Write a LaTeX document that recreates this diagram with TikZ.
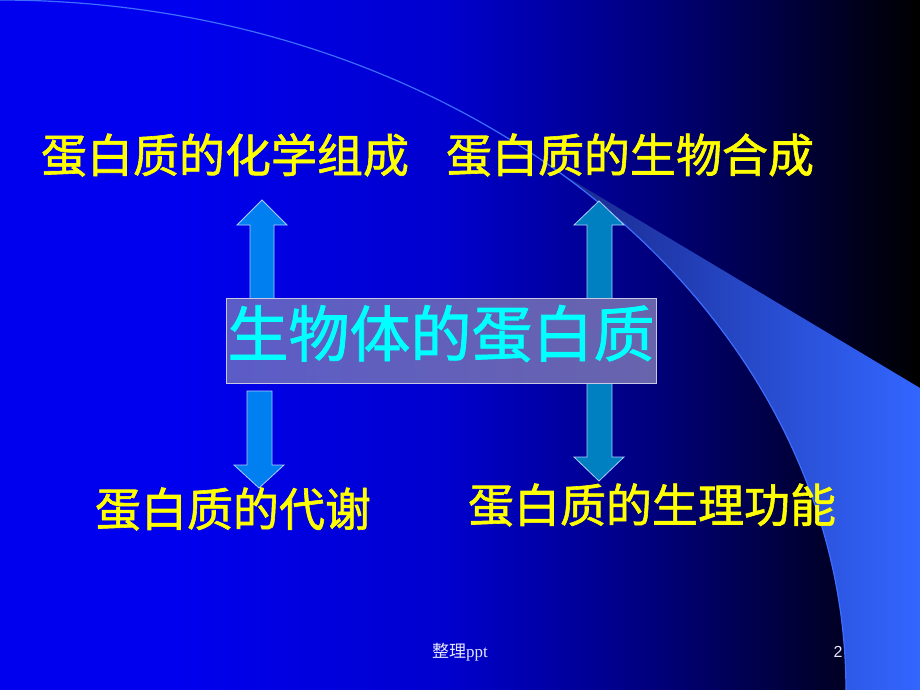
\documentclass[tikz,border=0pt]{standalone}
\usepackage{fontspec}
\setmainfont{Liberation Serif}
\newfontfamily\cjk{Noto Sans CJK SC}
\newfontfamily\cjkb[FakeBold=1.3]{Noto Sans CJK SC}
\newfontfamily\sansf{Liberation Sans}
\definecolor{bgA}{RGB}{0,0,238}
\definecolor{bgB}{RGB}{0,0,205}
\definecolor{bgC}{RGB}{0,0,125}
\definecolor{bgD}{RGB}{0,0,55}
\definecolor{swLine}{RGB}{60,110,255}
\definecolor{swDark}{RGB}{25,40,140}
\definecolor{swMid}{RGB}{48,92,232}
\definecolor{swLight}{RGB}{51,102,255}
\definecolor{arrA}{RGB}{0,128,240}
\definecolor{arrB}{RGB}{0,128,192}
\definecolor{arrEdge}{RGB}{175,205,255}
\definecolor{boxL}{RGB}{92,92,200}
\definecolor{boxR}{RGB}{104,100,172}
\definecolor{boxEdge}{RGB}{200,200,230}
\definecolor{ylw}{RGB}{255,255,0}
\definecolor{cyn}{RGB}{0,255,255}
\definecolor{foot}{RGB}{230,230,255}
\tikzset{
  blockarrowA/.style={fill=arrA, draw=arrEdge, line width=0.8pt, line join=miter},
  blockarrowB/.style={fill=arrB, draw=arrEdge, line width=0.8pt, line join=miter},
  topic/.style={text=ylw, inner sep=0pt, font=\cjkb\fontsize{46}{50}\selectfont},
  footer/.style={text=foot, inner sep=0pt}
}
\begin{document}
\begin{tikzpicture}[x=1pt,y=-1pt]
\useasboundingbox (0,0) rectangle (920,690);
% background
\fill[bgA] (0,0) rectangle (181,690);
\shade[left color=bgA,right color=bgB] (180,0) rectangle (451,690);
\shade[left color=bgB,right color=bgC] (450,0) rectangle (651,690);
\shade[left color=bgC,right color=bgD] (650,0) rectangle (801,690);
\shade[left color=bgD,right color=black] (800,0) rectangle (920,690);
% swoosh
\shade[left color=swDark, middle color=swMid, right color=swLight]
  plot[domain=41.5:90, samples=60] ({846*sin(\x)},{690-690*cos(\x)})
  -- (920,690) -- (920,388) -- cycle;
\draw[swLine, line width=1.2pt] plot[domain=0:90, samples=120] ({846*sin(\x)},{690-690*cos(\x)});
% text nodes
\node[topic] (chem) at (225,155) {蛋白质的化学组成};
\node[topic] (synth) at (630,155) {蛋白质的生物合成};
\node[topic] (meta) at (233,509) {蛋白质的代谢};
\node[topic] (func) at (652,505) {蛋白质的生理功能};
% right double arrow (behind the box)
\draw[blockarrowB] (599,201) -- (624,225) -- (612,225) -- (612,457) -- (624,457)
  -- (599,481) -- (574,457) -- (587,457) -- (587,225) -- (574,225) -- cycle;
% left up arrow
\draw[blockarrowA] (262,200) -- (287,225) -- (274,225) -- (274,300) -- (250,300)
  -- (250,225) -- (237,225) -- cycle;
% left down arrow
\draw[blockarrowA] (247,391) -- (272,391) -- (272,465) -- (284,465) -- (259,488)
  -- (234,465) -- (247,465) -- cycle;
% central box
\node[draw=boxEdge, line width=0.8pt, left color=boxL, right color=boxR,
      minimum width=430pt, inner xsep=0pt, inner ysep=0pt,
      text height=58.5pt, text depth=26.5pt, text=cyn,
      font=\cjkb\fontsize{61}{64}\selectfont]
  (core) at (441,340.5) {生物体的蛋白质};
% footer
\node[footer, font=\fontsize{17}{20}\selectfont] (page) at (460,652) {{\cjk 整理}ppt};
\node[footer, font=\sansf\fontsize{16}{19}\selectfont] (num) at (838,652) {2};
\end{tikzpicture}
\end{document}
